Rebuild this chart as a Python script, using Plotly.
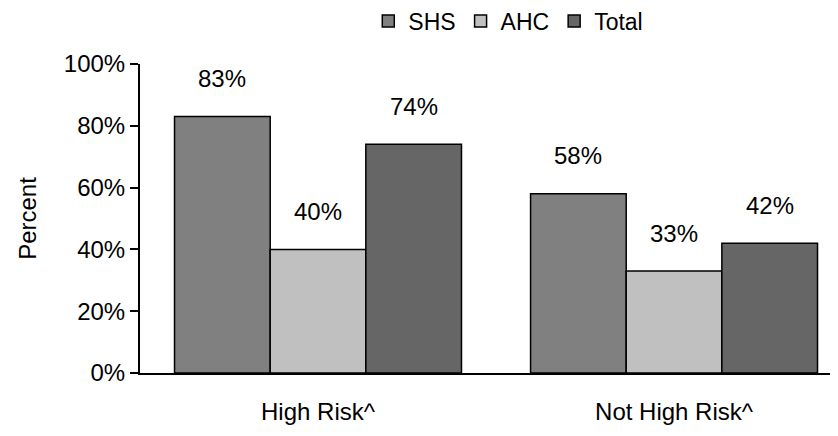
import plotly.graph_objects as go

categories = ["High Risk^", "Not High Risk^"]
series_names = ["SHS", "AHC", "Total"]
shs = [83, 58]
ahc = [40, 33]
total = [74, 42]
y_ticks = [0, 20, 40, 60, 80, 100]
y_tick_labels = ["0%", "20%", "40%", "60%", "80%", "100%"]

values = [shs, ahc, total]
colors = ["#808080", "#C0C0C0", "#666666"]
FONT = "Liberation Sans, Arial, sans-serif"
FS = 24
bargap = 0.194

xpos = list(range(len(categories)))
fig = go.Figure()
for name, vals, col in zip(series_names, values, colors):
    fig.add_trace(go.Bar(
        x=xpos, y=vals, name=name,
        marker=dict(color=col, line=dict(color="black", width=1.5)),
    ))

bw = (1 - bargap) / len(series_names)
for j, vals in enumerate(values):
    for i, v in enumerate(vals):
        fig.add_annotation(
            x=xpos[i] + (j - (len(series_names) - 1) / 2) * bw, y=v,
            text=f"{v}%", showarrow=False, yshift=38, yanchor="middle",
            font=dict(size=FS, color="black", family=FONT),
        )

fig.update_layout(
    width=838, height=436,
    margin=dict(l=132, r=0, t=56, b=71, autoexpand=False),
    paper_bgcolor="white", plot_bgcolor="white",
    barmode="group", bargap=bargap, bargroupgap=0,
    font=dict(family=FONT, size=FS, color="black"),
    showlegend=True,
    legend=dict(orientation="h", x=0.597, xanchor="center", xref="container",
                y=0.970, yanchor="middle", yref="container",
                font=dict(size=FS - 1), itemwidth=30, traceorder="normal",
                bgcolor="rgba(0,0,0,0)"),
    xaxis=dict(range=[-0.5, 1.483], tickvals=xpos, ticktext=categories,
               showline=True, linecolor="black", linewidth=2, ticks="",
               showgrid=False, zeroline=False, ticklabelstandoff=16,
               automargin=False, tickfont=dict(size=FS)),
    yaxis=dict(range=[0, 100], tickvals=y_ticks, ticktext=y_tick_labels,
               showline=True, linecolor="black", linewidth=2, ticks="outside",
               ticklen=8, tickwidth=2, tickcolor="black", showgrid=False, zeroline=False,
               automargin=False, tickfont=dict(size=FS),
               title=dict(text="Percent", font=dict(size=FS), standoff=20)),
)

fig.write_html("out.html")
